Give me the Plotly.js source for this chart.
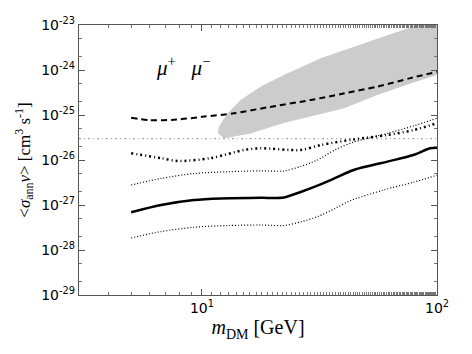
<!DOCTYPE html>
<html>
<head>
<meta charset="utf-8">
<script src="https://cdn.plot.ly/plotly-3.0.1.min.js"></script>
<style>
  html, body { margin: 0; padding: 0; background: #fff; }
  #chart { width: 472px; height: 354px; }
</style>
</head>
<body>
<div id="chart"></div>
<script>
// masses (GeV) and limits (cm^3 s^-1)
let massLimit = [5, 6, 7.8, 10, 13.7, 19, 29, 40, 56, 77, 100];
let limitDashed = [8.7e-26, 7.7e-26, 7.9e-26, 9.1e-26, 1.09e-25, 1.48e-25, 2.15e-25, 3.0e-25, 4.3e-25, 6.6e-25, 9.1e-25];

let massDashDot = [5, 6.7, 7.9, 10.9, 15.1, 17.8, 26.3, 32, 44.2, 61.5, 79.3, 100];
let limitDashDot = [1.41e-26, 1.1e-26, 9.5e-27, 1.1e-26, 1.67e-26, 1.82e-26, 1.67e-26, 2.15e-26, 2.87e-26, 3.6e-26, 4.6e-26, 6.6e-26];

let massUpper = [5, 6.7, 9.25, 13, 17.8, 22.3, 26.3, 31, 37, 44.2, 61.5, 79.3, 100];
let bandUpper = [2.78e-27, 3.9e-27, 5.0e-27, 5.5e-27, 5.75e-27, 5.7e-27, 7.2e-27, 1.0e-26, 1.7e-26, 2.5e-26, 3.9e-26, 5.7e-26, 8.5e-26];

let massMedian = [5, 6.7, 9.25, 12, 17.8, 22.3, 26.3, 31, 37, 44.2, 61.5, 79.3, 93.5, 100];
let median = [6.9e-28, 1.0e-27, 1.29e-27, 1.4e-27, 1.44e-27, 1.47e-27, 1.95e-27, 2.7e-27, 4.0e-27, 6.0e-27, 9.2e-27, 1.29e-26, 1.82e-26, 1.87e-26];

let massLower = [5, 6.7, 9.25, 13, 17.8, 22.3, 26.3, 31, 37, 42.8, 59.2, 79.3, 100];
let bandLower = [1.85e-28, 2.57e-28, 3.2e-28, 3.5e-28, 3.6e-28, 3.5e-28, 4.2e-28, 5.5e-28, 8.5e-28, 1.25e-27, 2.15e-27, 3.2e-27, 4.6e-27];

// gray region: upper edge left to right, then lower edge right to left
let regionMass = [11.69, 11.8, 12.88, 14.6, 17.8, 22.3, 32.0, 55.8, 82.5, 100, 100, 77.1, 55.8, 40.0, 29.0, 22.3, 16.1, 12.4, 11.69];
let regionSigma = [3.98e-26, 5.5e-26, 1.1e-25, 2.15e-25, 4.3e-25, 7.7e-25, 1.82e-24, 5.06e-24, 1.0e-23, 1.36e-23, 7.7e-25, 5.0e-25, 2.8e-25, 1.4e-25, 9.1e-26, 6.6e-26, 3.9e-26, 3.0e-26, 3.98e-26];

let thermalMass = [3, 100];
let thermalSigma = [3e-26, 3e-26];

let yTickVals = [1e-29, 1e-28, 1e-27, 1e-26, 1e-25, 1e-24, 1e-23];
let yTickText = ['10<sup>-29</sup>', '10<sup>-28</sup>', '10<sup>-27</sup>', '10<sup>-26</sup>', '10<sup>-25</sup>', '10<sup>-24</sup>', '10<sup>-23</sup>'];
let xTickVals = [10, 100];
let xTickText = ['10<sup>1</sup>', '10<sup>2</sup>'];

let data = [{
    x: regionMass, y: regionSigma,
    mode: 'lines', fill: 'toself',
    fillcolor: '#cccccc',
    line: { width: 0, color: '#cccccc' },
}, {
    x: thermalMass, y: thermalSigma,
    mode: 'lines',
    line: { color: '#a8a8a8', width: 1.3, dash: '2px,3px,1px,3px' },
}, {
    x: massLimit, y: limitDashed,
    mode: 'lines',
    line: { color: '#000', width: 2, dash: '6px,4px', shape: 'spline', smoothing: 0.8 },
}, {
    x: massDashDot, y: limitDashDot,
    mode: 'lines',
    line: { color: '#000', width: 2.5, dash: '2px,3px,1px,3px', shape: 'spline', smoothing: 0.8 },
}, {
    x: massUpper, y: bandUpper,
    mode: 'lines',
    line: { color: '#000', width: 1.2, dash: '1px,2px', shape: 'spline', smoothing: 0.8 },
}, {
    x: massMedian, y: median,
    mode: 'lines',
    line: { color: '#000', width: 2.5, shape: 'spline', smoothing: 0.8 },
}, {
    x: massLower, y: bandLower,
    mode: 'lines',
    line: { color: '#000', width: 1.2, dash: '1px,2px', shape: 'spline', smoothing: 0.8 },
}];

let tickFont = { family: 'DejaVu Sans, sans-serif', size: 14, color: '#000' };

let layout = {
    width: 472,
    height: 354,
    margin: { l: 79, r: 35, t: 25, b: 59, pad: 0 },
    paper_bgcolor: '#fff',
    plot_bgcolor: '#fff',
    showlegend: false,
    xaxis: {
        type: 'log',
        range: [Math.log10(3), 2],
        tickvals: xTickVals,
        ticktext: xTickText,
        ticks: 'inside',
        ticklen: 6,
        tickcolor: '#555',
        showgrid: false,
        zeroline: false,
        showline: true,
        linecolor: '#555',
        linewidth: 1.2,
        mirror: 'ticks',
        tickfont: tickFont,
        minor: { ticks: 'inside', ticklen: 3, tickcolor: '#777', showgrid: false },
        title: {
            text: '<i>m</i><sub>DM</sub> [GeV]',
            font: { family: 'Liberation Serif, serif', size: 20, color: '#000' },
            standoff: 5,
        },
    },
    yaxis: {
        type: 'log',
        range: [-29, -23],
        tickvals: yTickVals,
        ticktext: yTickText,
        ticks: 'inside',
        ticklen: 6,
        tickcolor: '#555',
        showgrid: false,
        zeroline: false,
        showline: true,
        linecolor: '#555',
        linewidth: 1.2,
        mirror: 'ticks',
        tickfont: tickFont,
        minor: { ticks: 'inside', ticklen: 3, tickcolor: '#777', showgrid: false },
        title: {
            text: '&lt;<i>σ</i><sub>ann</sub><i>v</i>&gt; [cm<sup>3</sup> s<sup>-1</sup>]',
            font: { family: 'Liberation Serif, serif', size: 17, color: '#000' },
            standoff: 6,
        },
    },
    annotations: [{
        xref: 'paper', yref: 'paper',
        x: 0.209, y: 0.845,
        xanchor: 'left', yanchor: 'middle',
        showarrow: false,
        text: '<i>μ</i><sup>+</sup>   <i>μ</i><sup>−</sup>',
        font: { family: 'Liberation Serif, serif', size: 21, color: '#000' },
    }],
};

let config = { staticPlot: true, displayModeBar: false };

Plotly.newPlot('chart', data, layout, config);
</script>
</body>
</html>
